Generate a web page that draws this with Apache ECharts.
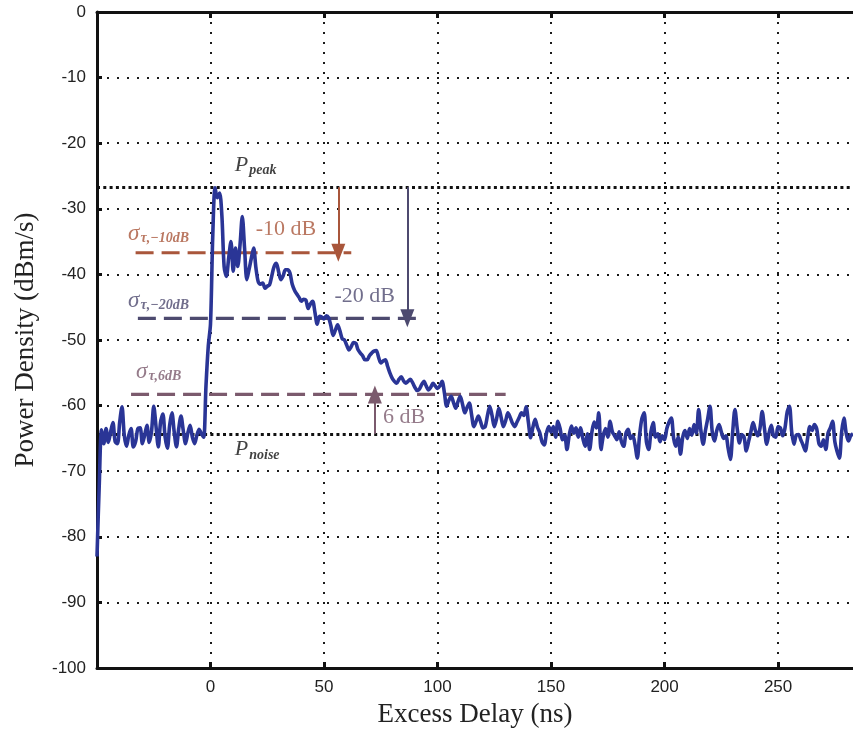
<!DOCTYPE html>
<html>
<head>
<meta charset="utf-8">
<script src="https://cdn.jsdelivr.net/npm/echarts@6/dist/echarts.min.js"></script>
<style>
  html, body { margin: 0; padding: 0; background: #fff; }
  #chart { width: 853px; height: 734px; }
</style>
</head>
<body>
<div id="chart"></div>
<script>
// Power delay profile: excess delay (ns) and measured power density (dBm/s)
const delayNs = [
  -50, -49, -48, -47, -46, -45, -44, -43, -42, -41,
  -40, -39, -38, -37, -36, -35, -34, -33, -32, -31,
  -30, -29, -28, -27, -26, -25, -24, -23, -22, -21,
  -20, -19, -18, -17, -16, -15, -14, -13, -12, -11,
  -10, -9, -8, -7, -6, -5, -4, -3, -2, -1,
  0, 1, 2, 3, 4, 5, 6, 7, 8, 9,
  10, 11, 12, 13, 14, 15, 16, 17, 18, 19,
  20, 21, 22, 23, 24, 25, 26, 27, 28, 29,
  30, 31, 32, 33, 34, 35, 36, 37, 38, 39,
  40, 41, 42, 43, 44, 45, 46, 47, 48, 49,
  50, 51, 52, 53, 54, 55, 56, 57, 58, 59,
  60, 61, 62, 63, 64, 65, 66, 67, 68, 69,
  70, 71, 72, 73, 74, 75, 76, 77, 78, 79,
  80, 81, 82, 83, 84, 85, 86, 87, 88, 89,
  90, 91, 92, 93, 94, 95, 96, 97, 98, 99,
  100, 101, 102, 103, 104, 105, 106, 107, 108, 109,
  110, 111, 112, 113, 114, 115, 116, 117, 118, 119,
  120, 121, 122, 123, 124, 125, 126, 127, 128, 129,
  130, 131, 132, 133, 134, 135, 136, 137, 138, 139,
  140, 141, 142, 143, 144, 145, 146, 147, 148, 149,
  150, 151, 152, 153, 154, 155, 156, 157, 158, 159,
  160, 161, 162, 163, 164, 165, 166, 167, 168, 169,
  170, 171, 172, 173, 174, 175, 176, 177, 178, 179,
  180, 181, 182, 183, 184, 185, 186, 187, 188, 189,
  190, 191, 192, 193, 194, 195, 196, 197, 198, 199,
  200, 201, 202, 203, 204, 205, 206, 207, 208, 209,
  210, 211, 212, 213, 214, 215, 216, 217, 218, 219,
  220, 221, 222, 223, 224, 225, 226, 227, 228, 229,
  230, 231, 232, 233, 234, 235, 236, 237, 238, 239,
  240, 241, 242, 243, 244, 245, 246, 247, 248, 249,
  250, 251, 252, 253, 254, 255, 256, 257, 258, 259,
  260, 261, 262, 263, 264, 265, 266, 267, 268, 269,
  270, 271, 272, 273, 274, 275, 276, 277, 278, 279,
  280, 281, 282, 283
];

const powerDbm = [
  -83, -72, -63.7, -65.8, -63.5, -65.6, -64, -62.6, -65.5, -65.8,
  -62.5, -60.2, -64.5, -66.2, -64.5, -63.5, -66.3, -65.5, -63.5, -63.4,
  -65.8, -64.5, -63, -65.6, -64, -60.1, -63.2, -66.3, -62.5, -61.3,
  -64.8, -66.5, -63, -61.1, -64, -66.3, -63.5, -61.6, -63.8, -65.8,
  -64.2, -63, -64.8, -65.8, -64.5, -63.6, -64.3, -64.8, -57, -51,
  -47.5, -34, -26.8, -28.3, -27.6, -31, -38.8, -40.3, -37.5, -35,
  -39.5, -36, -38.8, -35.5, -31.2, -36, -40.8, -39.2, -37.5, -36,
  -39, -41.1, -41.5, -41.3, -42.1, -41.8, -41.6, -40.2, -38.8, -38.3,
  -39.6, -40.8, -40.2, -39.3, -39.3, -39.8, -41.5, -42.4, -43, -43.5,
  -44.1, -43.8, -43.9, -45.2, -44.5, -44.1, -45.8, -47.6, -46.4, -46.5,
  -46.8, -46.3, -46.6, -47.8, -49.3, -48.5, -47.7, -48.6, -49.8, -50,
  -50.8, -51.5, -51, -50.4, -50.5, -51.5, -52, -52.4, -53, -53,
  -52.4, -52, -51.7, -51.6, -52.6, -53.5, -53.2, -53, -54, -55,
  -55.8, -56.3, -56.6, -56, -55.6, -56.2, -56.6, -56.3, -56, -56.5,
  -57.2, -57.7, -57.5, -56.8, -56.3, -57, -57.6, -57.2, -56.6, -57,
  -57.4, -57, -56.3, -58, -60.1, -59.2, -58.6, -59.5, -60.4, -59.4,
  -58.6, -59.8, -61.1, -60.3, -59.6, -61.4, -63.2, -62.4, -61.6, -62.5,
  -63.4, -63.2, -61.5, -60.1, -61.5, -63.2, -62, -60.4, -61.8, -63.2,
  -62.3, -61.1, -61.8, -62.7, -63.2, -62.5, -61.8, -61.1, -61.5, -60.2,
  -62.5, -64.9, -63.3, -62.1, -63.3, -64.1, -65.5, -66, -64.2, -63.2,
  -64, -63.2, -64.8, -62.4, -63.5, -65.2, -64.5, -66.7, -64.5, -63.1,
  -64.2, -63.4, -64.8, -63.4, -65, -66.2, -64.3, -66.7, -64, -62.5,
  -63.4, -61.1, -66.7, -64.6, -63.5, -64.8, -62.4, -64, -64.6, -65.2,
  -64, -65.5, -66.2, -64.2, -63.6, -65, -64.6, -66, -68, -64.5,
  -62, -61.1, -65.5, -66.7, -64, -62.6, -64.8, -64.3, -65.5, -64.6,
  -65.2, -63.5, -62.5, -61.9, -65, -66.2, -64.8, -67.4, -64.8, -63.8,
  -65, -63.5, -64.5, -62.9, -64.2, -60.6, -63.8, -65.9, -63.8, -62,
  -60.1, -64, -65.4, -63.8, -62.9, -64, -65, -64.6, -66.5, -68.2,
  -64, -60.6, -63.5, -65.7, -64.4, -64.8, -66.9, -65.5, -64, -62.6,
  -63.8, -64.6, -63.5, -60.9, -63.5, -65.9, -64.2, -63, -64.6, -64.8,
  -63.2, -63.4, -64.6, -63.5, -61, -60.1, -64, -65.9, -64.5, -64.4,
  -65.2, -66, -66.9, -65, -63.2, -63.8, -62.9, -63.5, -65.8, -66.2,
  -65.2, -66.7, -64.2, -63.4, -62.4, -65.5, -67, -68, -64, -61.9,
  -64.2, -65.4, -64.6, -64.3
];

// Reference levels (dBm/s)
const peakDbm = -26.7;
const noiseDbm = -64.3;
// Threshold offsets stated on the plot (dB)
const dropTen = -10;
const dropTwenty = -20;
const riseSix = 6;

const xTicks = [0, 50, 100, 150, 200, 250];
const yTicks = [0, -10, -20, -30, -40, -50, -60, -70, -80, -90, -100];

const colTen = '#a9563b';
const colTwenty = '#4d4a6f';
const colSix = '#7b5a6d';
const colCurve = '#2a3596';

const levelTen = peakDbm + dropTen;
const levelTwenty = peakDbm + dropTwenty;
const levelSix = noiseDbm + riseSix;

const curve = delayNs.map((d, i) => [d, powerDbm[i]]);

const chart = echarts.init(document.getElementById('chart'), null, { renderer: 'canvas' });

const dotted = { type: [2, 8], width: 2, color: '#1a1a1a' };
const axisFont = { fontFamily: 'Liberation Sans, Arial, sans-serif', fontSize: 17, color: '#222' };
const serif = 'Liberation Serif, Times New Roman, serif';

function dashed(x0, x1, y, color) {
  return {
    type: 'line', data: [[x0, y], [x1, y]], symbol: 'none', silent: true,
    lineStyle: { type: [18, 8], width: 3.2, color: color }, z: 3, animation: false
  };
}

function arrow(x, y0, y1, color) {
  return {
    type: 'line', data: [], silent: true, animation: false,
    markLine: {
      silent: true, animation: false,
      symbol: ['none', 'triangle'], symbolSize: [14, 18],
      label: { show: false },
      lineStyle: { type: 'solid', width: 2, color: color },
      data: [[{ coord: [x, y0] }, { coord: [x, y1] }]]
    }
  };
}

function textMark(x, y, text, pos, rich) {
  return {
    type: 'scatter', data: [[x, y]], symbolSize: 0, silent: true, animation: false, z: 6,
    label: { show: true, position: pos, distance: 0, formatter: text, rich: rich }
  };
}

const richDb = (color) => ({ t: { fontFamily: serif, fontSize: 22, color: color } });
const richSigma = (color) => ({
  s: { fontFamily: serif, fontStyle: 'italic', fontSize: 23, color: color, verticalAlign: 'bottom', lineHeight: 26 },
  b: { fontFamily: serif, fontStyle: 'italic', fontWeight: 'bold', fontSize: 14, color: color, verticalAlign: 'bottom', lineHeight: 26, padding: [0, 0, 0, 1] }
});
const richP = {
  s: { fontFamily: serif, fontStyle: 'italic', fontSize: 22, color: '#111', verticalAlign: 'bottom', lineHeight: 26, padding: [0, 0, 2, 0] },
  b: { fontFamily: serif, fontStyle: 'italic', fontWeight: 'bold', fontSize: 14, color: '#111', verticalAlign: 'bottom', lineHeight: 26, padding: [0, 0, 0, 1] }
};

const option = {
  backgroundColor: '#fff',
  animation: false,
  grid: { left: 97, right: 0, top: 12, bottom: 66, containLabel: false },
  xAxis: [{
    type: 'value', min: -50, max: 283, interval: 50,
    name: 'Excess Delay (ns)', nameLocation: 'middle', nameGap: 33,
    nameTextStyle: { fontFamily: serif, fontSize: 27, color: '#222' },
    axisLine: { show: true, onZero: false, lineStyle: { color: '#111', width: 3 } },
    axisTick: { show: true, inside: true, length: 6, lineStyle: { color: '#111', width: 3 },
      customValues: xTicks },
    axisLabel: Object.assign({ margin: 11, customValues: xTicks }, axisFont),
    splitLine: { show: true, lineStyle: dotted }
  }, {
    type: 'value', position: 'top', min: -50, max: 283, interval: 50,
    axisLine: { show: true, onZero: false, lineStyle: { color: '#111', width: 3 } },
    axisTick: { show: true, inside: true, length: 6, lineStyle: { color: '#111', width: 3 },
      customValues: xTicks },
    axisLabel: { show: false },
    splitLine: { show: false }
  }],
  yAxis: [{
    type: 'value', min: -100, max: 0, interval: 10,
    name: 'Power Density (dBm/s)', nameLocation: 'middle', nameGap: 58,
    nameTextStyle: { fontFamily: serif, fontSize: 27, color: '#222' },
    axisLine: { show: true, onZero: false, lineStyle: { color: '#111', width: 3 } },
    axisTick: { show: true, inside: true, length: 5, lineStyle: { color: '#111', width: 3 },
      customValues: yTicks },
    axisLabel: Object.assign({ margin: 11, customValues: yTicks }, axisFont),
    splitLine: { show: true, lineStyle: dotted }
  }],
  series: [
    // peak and noise floor levels
    {
      type: 'line', data: [], silent: true, animation: false,
      markLine: {
        silent: true, animation: false, symbol: 'none', label: { show: false },
        lineStyle: { type: [3, 3.3], width: 3, color: '#111' },
        data: [{ yAxis: peakDbm }, { yAxis: noiseDbm }]
      }
    },
    dashed(-33, 62, levelTen, colTen),
    dashed(-32, 93, levelTwenty, colTwenty),
    dashed(-35, 130, levelSix, colSix),
    arrow(56.3, peakDbm, levelTen, colTen),
    arrow(86.7, peakDbm, levelTwenty, colTwenty),
    arrow(72.4, noiseDbm, levelSix, colSix),
    textMark(33.2, -33.1, '{t|-10 dB}', 'inside', richDb(colTen)),
    textMark(67.9, -43.3, '{t|-20 dB}', 'inside', richDb(colTwenty)),
    textMark(85.3, -61.8, '{t|6 dB}', 'inside', richDb(colSix)),
    textMark(10.7, -23.3, '{s|P}{b|peak}', 'right', richP),
    textMark(10.7, -66.6, '{s|P}{b|noise}', 'right', richP),
    textMark(-36.3, -33.6, '{s|σ}{b|τ,−10dB}', 'right', richSigma(colTen)),
    textMark(-36.3, -43.8, '{s|σ}{b|τ,−20dB}', 'right', richSigma(colTwenty)),
    textMark(-32.8, -54.7, '{s|σ}{b|τ,6dB}', 'right', richSigma(colSix)),
    {
      type: 'line', name: 'Power Density', data: curve, symbol: 'none', smooth: 0.3,
      lineStyle: { width: 3.6, color: colCurve }, z: 5, animation: false
    }
  ]
};

chart.setOption(option);
</script>
</body>
</html>
